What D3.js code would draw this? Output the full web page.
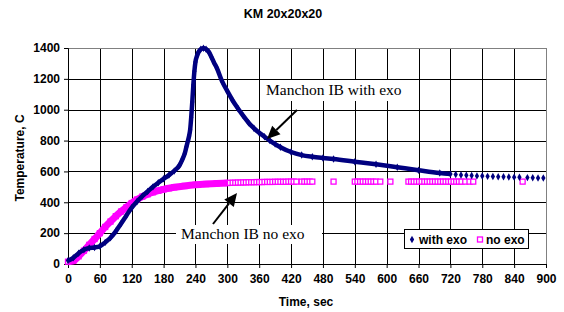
<!DOCTYPE html>
<html>
<head>
<meta charset="utf-8">
<script src="https://cdn.jsdelivr.net/npm/d3@7"></script>
<style>
  body { margin: 0; background: #fff; }
</style>
</head>
<body>
<div id="chart"></div>
<script>

///// Data

let title = "KM 20x20x20";
let xTicks = [0, 60, 120, 180, 240, 300, 360, 420, 480, 540, 600, 660, 720, 780, 840, 900];
let yTicks = [0, 200, 400, 600, 800, 1000, 1200, 1400];

// with exo (time, sec / temperature, C)
let exoTime = [0, 10, 20, 30, 40, 50, 60, 70, 80, 90, 100, 110, 120, 130, 140, 150, 160, 170, 180, 190,
    200, 210, 215, 220, 223, 226, 228, 230, 232, 234, 236, 238, 240, 243, 246, 250, 255, 260, 265, 270,
    275, 280, 290, 300, 310, 320, 330, 340, 350, 360, 370, 380, 390, 400, 420, 440, 460, 480, 500, 540,
    580, 620, 660, 700, 720, 730, 740, 750, 760, 770, 780, 790, 800, 810, 820, 830, 840, 850, 865, 875, 885, 895];
let exoTemp = [22, 40, 70, 92, 104, 107, 115, 140, 170, 212, 262, 315, 365, 405, 440, 470, 500, 527, 552, 576,
    603, 640, 675, 718, 760, 800, 830, 870, 950, 1050, 1160, 1250, 1310, 1350, 1375, 1392, 1398, 1392, 1375, 1342,
    1305, 1272, 1185, 1120, 1060, 1008, 960, 916, 880, 850, 825, 800, 777, 757, 726, 706, 695, 687, 680, 663,
    646, 627, 608, 590, 583, 580, 577, 575, 573, 571, 570, 568, 567, 566, 565, 564, 563, 562, 560, 559, 558, 557];

// no exo
let noExoTime = [0, 10, 20, 30, 40, 50, 60, 70, 80, 90, 100, 110, 120, 130, 140, 150, 160, 170, 180, 190,
    200, 220, 240, 260, 280, 300, 305, 310, 315, 320, 325, 330, 335, 340, 345, 350, 355, 360, 365, 370,
    375, 380, 385, 390, 395, 400, 405, 410, 415, 420, 425, 430, 440, 445, 450, 455, 460, 500, 540, 545,
    550, 555, 560, 565, 570, 575, 580, 588, 607, 641, 646, 651, 656, 661, 666, 671, 676, 681, 686, 691,
    696, 701, 706, 711, 716, 721, 726, 731, 736, 741, 748, 756, 763, 856];
let noExoTemp = [15, 20, 50, 86, 124, 162, 200, 240, 275, 310, 340, 368, 395, 418, 437, 452, 465, 475, 484, 491,
    497, 506, 513, 518, 522, 525, 526, 527, 527, 528, 528, 529, 529, 530, 530, 530, 531, 531, 531, 532,
    532, 532, 532, 533, 533, 533, 533, 533, 534, 534, 534, 534, 534, 534, 534, 534, 534, 534, 534, 534,
    534, 534, 534, 534, 534, 534, 534, 534, 534, 534, 534, 534, 534, 534, 534, 534, 534, 534, 534, 534,
    534, 534, 534, 534, 534, 534, 534, 534, 534, 534, 534, 534, 534, 534];

let seriesNames = ["with exo", "no exo"];
let noteExo = "Manchon IB with exo";
let noteNoExo = "Manchon IB no exo";

let exoData = exoTime.map(function(t, i) { return { t: t, v: exoTemp[i] }; });
let noExoData = noExoTime.map(function(t, i) { return { t: t, v: noExoTemp[i] }; });

///// Layout

let W = 564, H = 312;
let margin = { top: 48, right: 18, bottom: 48, left: 68 },
    width = W - margin.left - margin.right,
    height = H - margin.top - margin.bottom;

let navy = "#000080", magenta = "#ff00ff";
let sans = "'Liberation Sans', Arial, sans-serif";
let serif = "'Liberation Serif', 'Times New Roman', serif";

let x = d3.scaleLinear().domain([0, 900]).range([0, width]);
let y = d3.scaleLinear().domain([0, 1400]).range([height, 0]);

let root = d3.select("#chart").append("svg")
    .attr("width", W).attr("height", H)
    .style("font-family", sans);

let svg = root.append("g")
    .attr("transform", "translate(" + margin.left + "," + margin.top + ")");

// grid
svg.append("g").selectAll("line").data(xTicks.slice(1)).enter().append("line")
    .attr("x1", function(d) { return Math.round(x(d)) + 0.5; })
    .attr("x2", function(d) { return Math.round(x(d)) + 0.5; })
    .attr("y1", 0).attr("y2", height)
    .attr("stroke", function(d) { return d === 900 ? "#808080" : "#000"; })
    .attr("stroke-width", 1);
svg.append("g").selectAll("line").data(yTicks.slice(1)).enter().append("line")
    .attr("y1", function(d) { return Math.round(y(d)) + 0.5; })
    .attr("y2", function(d) { return Math.round(y(d)) + 0.5; })
    .attr("x1", 0).attr("x2", width)
    .attr("stroke", function(d) { return d === 1400 ? "#808080" : "#000"; })
    .attr("stroke-width", 1);

// axes
let xAxis = svg.append("g")
    .attr("transform", "translate(0," + height + ")")
    .call(d3.axisBottom(x).tickValues(xTicks).tickFormat(d3.format("d")).tickSize(4).tickPadding(6));
let yAxis = svg.append("g")
    .call(d3.axisLeft(y).tickValues(yTicks).tickFormat(d3.format("d")).tickSize(4).tickPadding(4));
[xAxis, yAxis].forEach(function(a) {
    a.attr("font-family", null).attr("font-size", null);
    a.select(".domain").attr("stroke", "#000");
    a.selectAll("line").attr("stroke", "#000");
    a.selectAll("text")
        .style("font-family", sans)
        .style("font-weight", "bold")
        .style("font-size", "12px")
        .attr("fill", "#000");
});

// no exo series: dense part as thick band, open squares on all points
let lineGen = d3.line()
    .x(function(d) { return x(d.t); })
    .y(function(d) { return y(d.v); })
    .curve(d3.curveMonotoneX);

svg.append("path")
    .datum(noExoData.filter(function(d) { return d.t <= 300; }))
    .attr("d", lineGen)
    .attr("fill", "none")
    .attr("stroke", magenta)
    .attr("stroke-width", 7);

svg.append("g").selectAll("rect").data(noExoData).enter().append("rect")
    .attr("x", function(d) { return x(d.t) - 2.5; })
    .attr("y", function(d) { return y(d.v) - 2.5; })
    .attr("width", 5).attr("height", 5)
    .attr("fill", function(d) { return d.t <= 300 ? "none" : "#fff"; })
    .attr("stroke", magenta)
    .attr("stroke-width", 1.3);

// with exo series
svg.append("path")
    .datum(exoData.filter(function(d) { return d.t <= 720; }))
    .attr("d", lineGen)
    .attr("fill", "none")
    .attr("stroke", navy)
    .attr("stroke-width", 4.5);

let diamond = d3.symbol().type(d3.symbolDiamond).size(16);
svg.append("g").selectAll("path").data(exoData).enter().append("path")
    .attr("d", diamond)
    .attr("transform", function(d) { return "translate(" + x(d.t) + "," + y(d.v) + ")"; })
    .attr("fill", navy);

///// Annotations

function note(txt, bx, by, bw, bh, tx, ty, ax1, ay1, ax2, ay2) {
    root.append("rect")
        .attr("x", bx).attr("y", by).attr("width", bw).attr("height", bh)
        .attr("fill", "#fff");
    root.append("text")
        .attr("x", tx).attr("y", ty)
        .style("font-family", serif)
        .style("font-size", "15.5px")
        .text(txt);
    // arrow shaft + head
    let ang = Math.atan2(ay2 - ay1, ax2 - ax1);
    let hl = 13, hw = 6;
    let bxh = ax2 - hl * Math.cos(ang), byh = ay2 - hl * Math.sin(ang);
    root.append("line")
        .attr("x1", ax1).attr("y1", ay1).attr("x2", bxh).attr("y2", byh)
        .attr("stroke", "#000").attr("stroke-width", 2);
    root.append("path")
        .attr("d", "M" + ax2 + "," + ay2 +
            "L" + (bxh + hw * Math.sin(ang)) + "," + (byh - hw * Math.cos(ang)) +
            "L" + (bxh - hw * Math.sin(ang)) + "," + (byh + hw * Math.cos(ang)) + "Z")
        .attr("fill", "#000");
}

note(noteExo, 261, 80, 150, 21, 266, 95, 297, 110, 267, 139);
note(noteNoExo, 176, 225, 146, 19, 181, 239, 213, 224, 237, 193);

///// Legend

let lg = root.append("g").attr("transform", "translate(404.5,229.5)");
lg.append("rect").attr("width", 124).attr("height", 19)
    .attr("fill", "#fff").attr("stroke", "#000").attr("stroke-width", 1);
lg.append("path").attr("d", diamond).attr("transform", "translate(7.5,10)").attr("fill", navy);
lg.append("text").attr("x", 14.5).attr("y", 14).style("font-weight", "bold").style("font-size", "12px")
    .text(seriesNames[0]);
lg.append("rect").attr("x", 73).attr("y", 7.5).attr("width", 5).attr("height", 5)
    .attr("fill", "#fff").attr("stroke", magenta).attr("stroke-width", 1.3);
lg.append("text").attr("x", 81.5).attr("y", 14).style("font-weight", "bold").style("font-size", "12px")
    .text(seriesNames[1]);

///// Titles

root.append("text")
    .attr("x", 283).attr("y", 18)
    .attr("text-anchor", "middle")
    .style("font-weight", "bold").style("font-size", "12.5px")
    .text(title);

root.append("text")
    .attr("x", 306).attr("y", 306)
    .attr("text-anchor", "middle")
    .style("font-weight", "bold").style("font-size", "12px")
    .text("Time, sec");

root.append("text")
    .attr("transform", "translate(24,158) rotate(-90)")
    .attr("text-anchor", "middle")
    .style("font-weight", "bold").style("font-size", "12px")
    .text("Temperature, C");

</script>
</body>
</html>
